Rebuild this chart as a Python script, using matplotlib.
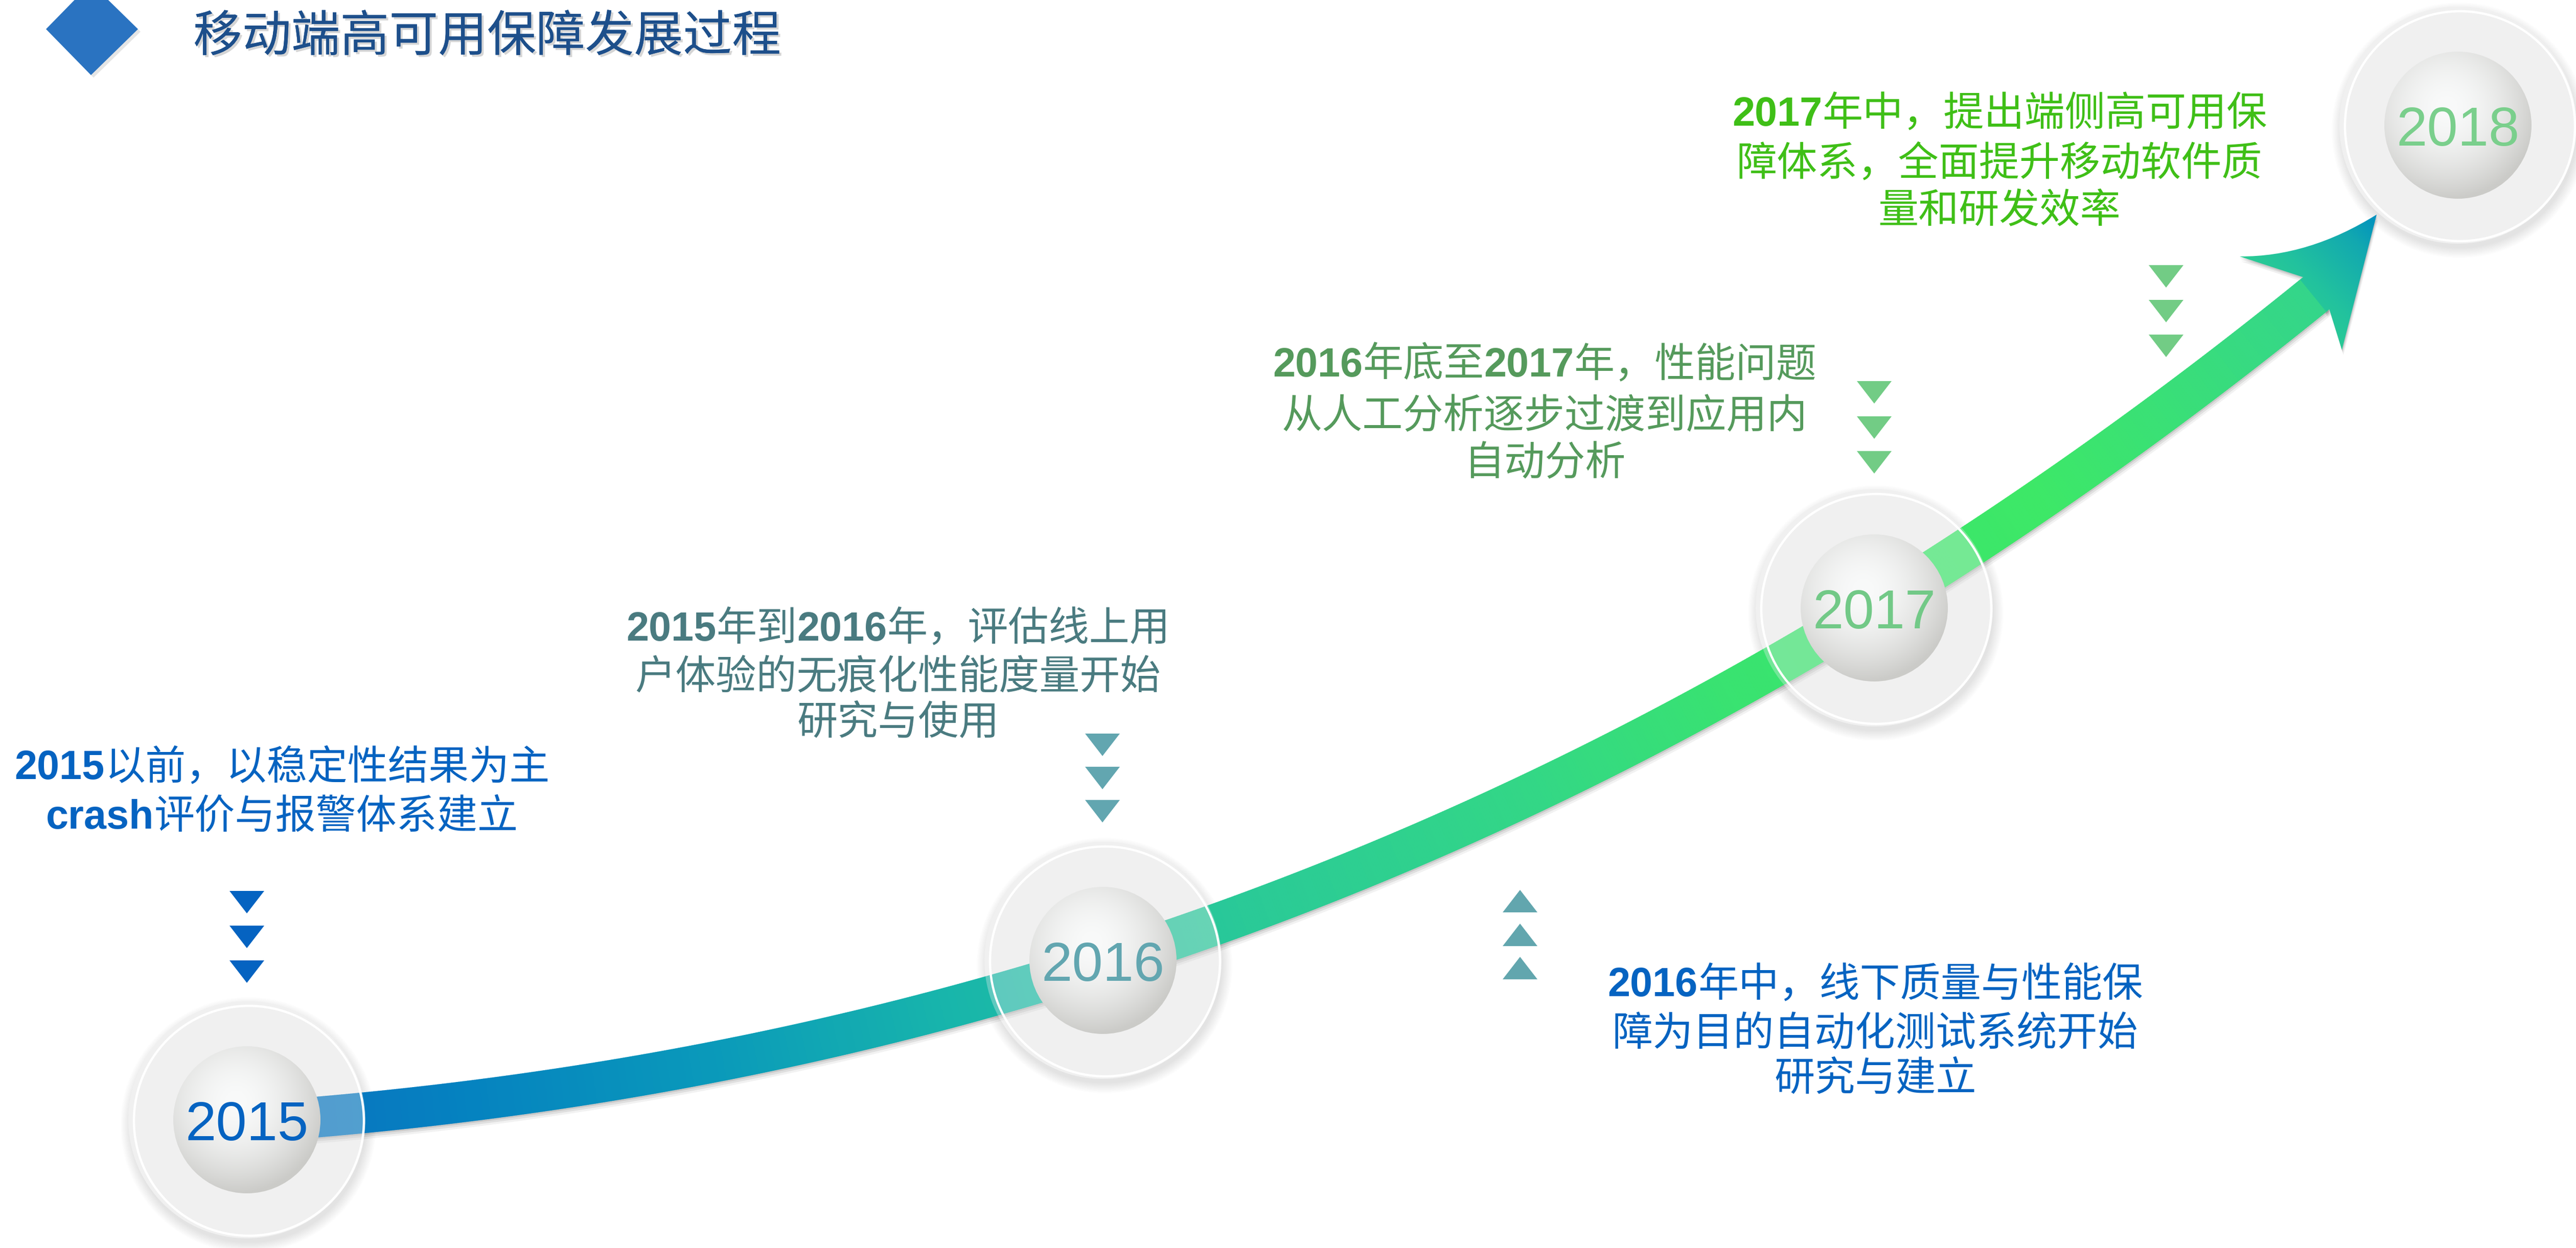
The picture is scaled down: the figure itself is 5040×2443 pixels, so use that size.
import numpy as np
import matplotlib.pyplot as plt
from matplotlib.patches import Circle, Polygon, PathPatch
from matplotlib.path import Path
from matplotlib.collections import PolyCollection
from matplotlib.colors import LinearSegmentedColormap, to_rgb
import matplotlib.patheffects as pe

# ---- content ----
title = "移动端高可用保障发展过程"
years = ["2015", "2016", "2017", "2018"]
year_colors = ["#0563C1", "#62A6B0", "#72C987", "#7ACF8C"]

# each line is a list of (text, bold) runs
block_2015 = [[("2015", True), ("以前，以稳定性结果为主", False)],
              [("crash", True), ("评价与报警体系建立", False)]]
block_2016a = [[("2015", True), ("年到", False), ("2016", True), ("年，评估线上用", False)],
               [("户体验的无痕化性能度量开始", False)],
               [("研究与使用", False)]]
block_2016b = [[("2016", True), ("年中，线下质量与性能保", False)],
               [("障为目的自动化测试系统开始", False)],
               [("研究与建立", False)]]
block_2016c = [[("2016", True), ("年底至", False), ("2017", True), ("年，性能问题", False)],
               [("从人工分析逐步过渡到应用内", False)],
               [("自动分析", False)]]
block_2017 = [[("2017", True), ("年中，提出端侧高可用保", False)],
              [("障体系，全面提升移动软件质", False)],
              [("量和研发效率", False)]]

# ---- layout (pixel coordinates, y down) ----
W, H = 5040, 2443
node_x = [483, 2158, 3667, 4809]
node_y = [2192, 1880, 1190, 245]
band_pts = [(483, 2192), (800, 2172), (1300, 2108), (1850, 1972), (2158, 1878),
            (2450, 1776), (3050, 1540), (3400, 1333), (3667, 1188), (4000, 985),
            (4363, 708), (4532, 568)]
band_color_x = [483, 900, 1400, 1850, 2450, 3000, 3400, 4000, 4350, 4532]
band_colors = ["#0A70C0", "#0582C0", "#0A9ABA", "#18B5AB", "#2ACA97",
               "#33D786", "#39E370", "#3DE867", "#38DC7E", "#34D58A"]

blocks = [  # (lines, center x, line center ys, color)
    (block_2015, 552, [1495, 1592], "#0563C1"),
    (block_2016a, 1757, [1224, 1318, 1407], "#4A7B80"),
    (block_2016b, 3669, [1920, 2016, 2105], "#0563C1"),
    (block_2016c, 3022, [707, 808, 900], "#559A5C"),
    (block_2017, 3912, [216, 314, 405], "#3FBF17"),
]
chevrons = [  # (x, ys, pointing down?, color)
    (483, [1766, 1834, 1902], True, "#0563C1"),
    (2157, [1458, 1523, 1588], True, "#62A6B0"),
    (2974, [1764, 1830, 1895], False, "#62A6AE"),
    (3667, [768, 837, 905], True, "#72CC85"),
    (4238, [541, 609, 677], True, "#72CC85"),
]

CJK = ['Noto Sans CJK SC', 'DejaVu Sans']
LAT = ['Liberation Sans', 'DejaVu Sans']

fig = plt.figure(figsize=(W / 100, H / 100), dpi=100)
ax = fig.add_axes([0, 0, 1, 1])
ax.set_xlim(0, W)
ax.set_ylim(H, 0)
ax.axis('off')


def gradient_image(x0, x1, y0, y1, func, clip, zorder):
    xs = np.linspace(x0, x1, 300)
    ys = np.linspace(y0, y1, 300)
    X, Y = np.meshgrid(xs, ys)
    img = func(X, Y)
    im = ax.imshow(img, extent=(x0, x1, y1, y0), origin='upper', aspect='auto',
                   interpolation='bilinear', zorder=zorder)
    im.set_clip_path(clip)
    return im


# ---- header ----
ax.add_patch(Polygon([(97, 62), (183, -28), (275, 62), (183, 152)], closed=True,
                     fc='#999999', ec='none', alpha=0.25, zorder=1))
ax.add_patch(Polygon([(90, 57), (178, -33), (270, 57), (178, 147)], closed=True,
                     fc='#2A73C1', ec='none', zorder=2))
ax.text(378, 100, title, fontsize=69, color='#1D4F8B', family=CJK, ha='left', va='baseline',
        zorder=5, path_effects=[pe.withSimplePatchShadow(offset=(3, -3), shadow_rgbFace='#888888',
                                                          alpha=0.35), pe.Normal()])

# ---- ring backgrounds ----
for cx, cy in zip(node_x, node_y):
    for k in range(14):
        ax.add_patch(Circle((cx + 3, cy + 10), 250 - k * 1.5, fc='#606060', ec='none',
                            alpha=0.012, zorder=1))
    ax.add_patch(Circle((cx, cy), 232, fc='#F0F0F0', ec='none', zorder=2))

# ---- curved band (smooth fit through the traced points) ----
bx = np.array([p[0] for p in band_pts], float)
by = np.array([p[1] for p in band_pts], float)
coef = np.polyfit(bx, by, 3)
cxs = np.linspace(bx[0], bx[-1], 900)
c = np.column_stack([cxs, np.polyval(coef, cxs)])
slope = np.polyval(np.polyder(coef), cxs)
tan = np.column_stack([np.ones_like(slope), slope])
tan /= np.hypot(tan[:, 0], tan[:, 1])[:, None]
nrm = np.column_stack([-tan[:, 1], tan[:, 0]])
wid = np.interp(c[:, 0], [483, 4532], [78, 80])
up = c + nrm * wid[:, None] / 2
lo = c - nrm * wid[:, None] / 2

outline = np.vstack([up, lo[::-1]])
for off, a in [(12, 0.05), (8, 0.08), (4, 0.1)]:
    ax.add_patch(Polygon(outline + [off * 0.3, off], closed=True, fc='#000000', ec='none',
                         alpha=a, zorder=2.5))

pos = [(x - band_color_x[0]) / (band_color_x[-1] - band_color_x[0]) for x in band_color_x]
band_cmap = LinearSegmentedColormap.from_list('band', list(zip(pos, band_colors)))
quads = [[up[i], up[i + 1], lo[i + 1], lo[i]] for i in range(len(c) - 1)]
xm = (c[:-1, 0] + c[1:, 0]) / 2
qcol = band_cmap((xm - band_color_x[0]) / (band_color_x[-1] - band_color_x[0]))
ax.add_collection(PolyCollection(quads, facecolors=qcol, edgecolors=qcol, linewidths=1.2,
                                 zorder=3))

# ---- arrow head ----
d = tan[-1]
e = c[-1]
NL = e + nrm[-1] * 40
NR = e - nrm[-1] * 40
if NL[1] > NR[1]:
    NL, NR = NR, NL
T = np.array([4650, 420])
L = np.array([4382, 502])
R = np.array([4582, 685])
C = np.array([4517, 503])
verts = [NL - d * 8, NL, L, C, T, R, NR, NR - d * 8, NL - d * 8]
codes = [Path.MOVETO, Path.LINETO, Path.LINETO, Path.CURVE3, Path.CURVE3, Path.LINETO,
         Path.LINETO, Path.LINETO, Path.CLOSEPOLY]
head_path = Path(verts, codes)
for off, a in [(10, 0.06), (6, 0.08), (3, 0.1)]:
    ax.add_patch(PathPatch(Path(np.array(verts) + [off * 0.3, off], codes), fc='#000000',
                           ec='none', alpha=a, zorder=2.5))
head = PathPatch(head_path, fc='none', ec='none', zorder=3)
ax.add_patch(head)

head_cmap = LinearSegmentedColormap.from_list(
    'head', [(0, '#35D788'), (0.45, '#22C29E'), (0.8, '#12A8B0'), (1, '#0090C0')])
A = np.array([4420, 650])
dv = T - A


def head_colors(X, Y):
    s = ((X - A[0]) * dv[0] + (Y - A[1]) * dv[1]) / (dv @ dv)
    return head_cmap(np.clip(s, 0, 1))


gradient_image(4340, 4670, 400, 760, head_colors, head, 3.2)

# ---- ring overlays, white outline, sphere ----
light = np.array(to_rgb('#F9FAFA'))
dark = np.array(to_rgb('#CBCBC8'))

for cx, cy, yr, col in zip(node_x, node_y, years, year_colors):
    ax.add_patch(Circle((cx, cy), 232, fc='#F0F0F0', ec='none', alpha=0.32, zorder=4))
    ax.add_patch(Circle((cx + 4, cy + 2), 225, fc='none', ec='white', lw=3.2, zorder=4.2))

    clip = Circle((cx, cy), 144, fc='none', ec='none', zorder=5)
    ax.add_patch(clip)

    def sphere(X, Y, cx=cx, cy=cy):
        dd = np.hypot((X - cx) / 144 + 0.15, (Y - cy) / 144 + 0.25) / 1.25
        t = np.clip(dd, 0, 1) ** 1.8
        return light * (1 - t[..., None]) + dark * t[..., None]

    gradient_image(cx - 145, cx + 145, cy - 145, cy + 145, sphere, clip, 5)
    ax.text(cx, cy + 40, yr, fontsize=78, color=col, family=LAT, ha='center',
            va='baseline', zorder=6)

# ---- chevrons ----
for x, ys, down, col in chevrons:
    for y in ys:
        if down:
            pts = [(x - 34, y - 22), (x + 34, y - 22), (x, y + 22)]
        else:
            pts = [(x - 34, y + 22), (x + 34, y + 22), (x, y - 22)]
        ax.add_patch(Polygon(pts, closed=True, fc=col, ec='none', zorder=6))

# ---- text blocks ----
renderer = fig.canvas.get_renderer()
size = 57


def draw_line(cx, cy, runs, color):
    objs = []
    for s, bold in runs:
        if bold:
            t = ax.text(0, 0, s, fontsize=size, color=color, fontweight='bold', family=LAT,
                        ha='left', va='baseline', zorder=7)
        else:
            t = ax.text(0, 0, s, fontsize=size, color=color, family=CJK,
                        ha='left', va='baseline', zorder=7)
        objs.append(t)
    widths = [t.get_window_extent(renderer).width for t in objs]
    x = cx - sum(widths) / 2
    for t, w in zip(objs, widths):
        t.set_position((x, cy + 0.38 * size * 100 / 72))
        x += w


for lines, cx, ys, col in blocks:
    for runs, y in zip(lines, ys):
        draw_line(cx, y, runs, col)

ax.set_xlim(0, W)
ax.set_ylim(H, 0)
fig.savefig("out.png", dpi=100, facecolor='white')
